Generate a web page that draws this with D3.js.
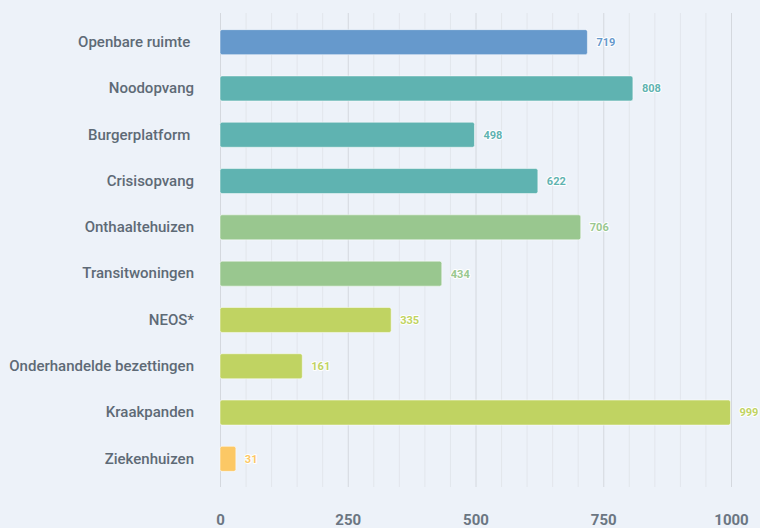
<!DOCTYPE html>
<html><head><meta charset="utf-8">
<script src="https://cdn.jsdelivr.net/npm/d3@7"></script>
<style>
html,body{margin:0;padding:0;background:#edf2f9;}
svg{display:block;font-family:Roboto, "Noto Sans", sans-serif;}
</style></head>
<body><svg id="c" width="760" height="528"></svg>
<script>
const categories = ["Openbare ruimte ","Noodopvang","Burgerplatform ","Crisisopvang","Onthaaltehuizen","Transitwoningen","NEOS*","Onderhandelde bezettingen","Kraakpanden","Ziekenhuizen"];
const values = [719,808,498,622,706,434,335,161,999,31];
const colors = ["#6699cc","#5fb3b1","#5fb3b1","#5fb3b1","#99c78f","#99c78f","#c0d362","#c0d362","#c0d362","#fcc865"];
const tickValues = [0,250,500,750,1000];

const svg = d3.select("#c");
const x = d3.scaleLinear().domain([0,1000]).range([220,731]);
const y = d3.scaleBand().domain(categories).range([19,482]).paddingInner(0.46).paddingOuter(0.23);

// grid
const minor = d3.range(0,1001,50);
svg.append("g").selectAll("line").data(minor).join("line")
  .attr("x1",d=>x(d)+0.5).attr("x2",d=>x(d)+0.5)
  .attr("y1",13).attr("y2",487)
  .attr("stroke",d=>d%250===0?"#d4d8de":"#e2e6ec").attr("stroke-width",1);

// bars
svg.append("g").selectAll("rect").data(categories).join("rect")
  .attr("x",x(0)).attr("y",d=>y(d))
  .attr("width",(d,i)=>x(values[i])-x(0)).attr("height",y.bandwidth())
  .attr("rx",2).attr("fill",(d,i)=>colors[i])
  .attr("stroke","rgba(255,255,255,0.5)").attr("stroke-width",1);

// value labels
svg.append("g").selectAll("text").data(categories).join("text")
  .attr("x",(d,i)=>x(values[i])+9).attr("y",d=>y(d)+y.bandwidth()/2)
  .attr("dy","0.35em").attr("font-size",11).attr("font-weight",700)
  .attr("fill",(d,i)=>colors[i])
  .attr("stroke","#ffffff").attr("stroke-width",2).attr("stroke-linejoin","round")
  .attr("paint-order","stroke")
  .text((d,i)=>values[i]);

// category axis
const ya = d3.axisLeft(y).tickSize(0).tickPadding(0);
svg.append("g").attr("transform","translate(194,0)").call(ya)
  .call(g=>g.select(".domain").remove())
  .selectAll("text").attr("font-size",15).attr("font-weight",500)
  .attr("fill","#5e6a76").attr("font-family","Roboto, sans-serif")
  .style("white-space","pre");

// x axis
const xa = d3.axisBottom(x).tickValues(tickValues).tickFormat(d3.format("d")).tickSize(0).tickPadding(0);
svg.append("g").attr("transform","translate(0,514)").call(xa)
  .call(g=>g.select(".domain").remove())
  .selectAll("text").attr("font-size",15).attr("font-weight",700)
  .attr("fill","#6b7682").attr("font-family","Roboto, sans-serif");
</script></body></html>
